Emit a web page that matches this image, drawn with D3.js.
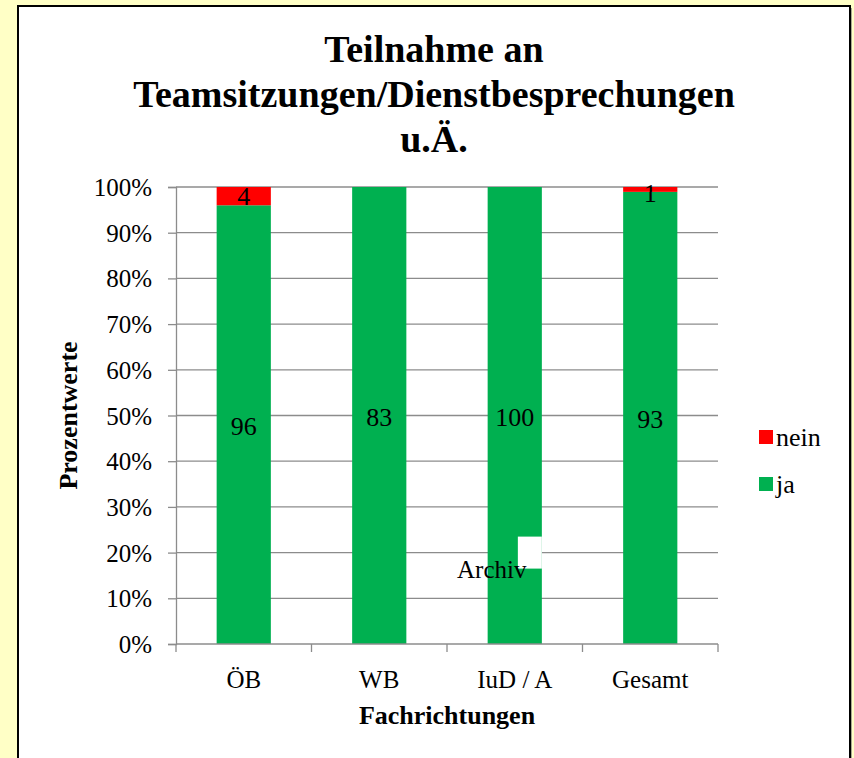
<!DOCTYPE html>
<html>
<head>
<meta charset="utf-8">
<script src="https://cdn.jsdelivr.net/npm/d3@7"></script>
<style>
  html, body { margin: 0; padding: 0; background: #FFFFC6; }
  svg { display: block; }
  text { font-family: "Liberation Serif", "Times New Roman", serif; }
</style>
</head>
<body>
<svg id="chart" width="854" height="758"></svg>
<script>
const categories = ['ÖB', 'WB', 'IuD / A', 'Gesamt'];
const jaValues = [96, 83, 100, 93];
const neinValues = [4, 0, 0, 1];
const yTicks = [0, 0.1, 0.2, 0.3, 0.4, 0.5, 0.6, 0.7, 0.8, 0.9, 1];
const titleLines = ['Teilnahme an', 'Teamsitzungen/Dienstbesprechungen', 'u.Ä.'];

const colors = { ja: '#00B050', nein: '#FF0000' };

const svg = d3.select('#chart');
const margin = { top: 187, right: 136, bottom: 114, left: 176 };
const W = 854, H = 758;

// chart frame
svg.append('rect').attr('x', 20).attr('y', 8).attr('width', 832).attr('height', 760)
  .attr('fill', '#a8a890');
svg.append('rect').attr('x', 18).attr('y', 6).attr('width', 832).attr('height', 760)
  .attr('fill', '#fff').attr('stroke', '#000').attr('stroke-width', 2);

// title
svg.append('g').selectAll('text').data(titleLines).join('text')
  .attr('x', 434).attr('y', (d, i) => 62 + i * 45)
  .attr('text-anchor', 'middle')
  .attr('font-size', 38).attr('font-weight', 'bold')
  .text(d => d);

const rows = categories.map((c, i) => ({ cat: c, ja: jaValues[i], nein: neinValues[i] }));
const series = d3.stack().keys(['ja', 'nein']).offset(d3.stackOffsetExpand)(rows);

const x = d3.scaleBand().domain(categories)
  .range([margin.left, W - margin.right]).paddingInner(0.6).paddingOuter(0.3);
const xTick = d3.scaleBand().domain(categories).range([margin.left, W - margin.right]);
const y = d3.scaleLinear().domain([0, 1]).range([H - margin.bottom, margin.top]);

// gridlines
svg.append('g').selectAll('line').data(yTicks.slice(1)).join('line')
  .attr('x1', margin.left).attr('x2', W - margin.right)
  .attr('y1', d => y(d)).attr('y2', d => y(d))
  .attr('stroke', '#8c8c8c').attr('stroke-width', 1.3);

// bars
svg.append('g').selectAll('g').data(series).join('g')
  .attr('fill', d => colors[d.key])
  .selectAll('rect').data(d => d).join('rect')
  .attr('x', d => x(d.data.cat))
  .attr('width', x.bandwidth())
  .attr('y', d => y(d[1]))
  .attr('height', d => y(d[0]) - y(d[1]));

// data labels
svg.append('g').selectAll('g').data(series).join('g')
  .selectAll('text').data(d => d.map(p => ({ p, key: d.key })).filter(o => o.p.data[o.key] > 0))
  .join('text')
  .attr('x', o => x(o.p.data.cat) + x.bandwidth() / 2)
  .attr('y', o => o.key === 'ja' ? (y(o.p[0]) + y(o.p[1])) / 2 + 10 : Math.max((y(o.p[0]) + y(o.p[1])) / 2 + 9, 202))
  .attr('text-anchor', 'middle').attr('font-size', 26)
  .text(o => o.p.data[o.key]);

// Archiv annotation
svg.append('rect').attr('x', x('IuD / A') + x.bandwidth() - 24).attr('y', y(0.235))
  .attr('width', 24).attr('height', y(0.165) - y(0.235)).attr('fill', '#fff');
svg.append('text').attr('x', x('IuD / A') + x.bandwidth() / 2 - 23).attr('y', y(0.165) + 9)
  .attr('text-anchor', 'middle').attr('font-size', 25).text('Archiv');

// y axis
const yAxis = svg.append('g').attr('transform', `translate(${margin.left},0)`)
  .call(d3.axisLeft(y).tickValues(yTicks).tickFormat(d3.format('.0%')).tickSize(8).tickPadding(16));
yAxis.select('.domain').attr('stroke', '#8c8c8c').attr('stroke-width', 1.3);
yAxis.selectAll('.tick line').attr('stroke', '#8c8c8c').attr('stroke-width', 1.3);
yAxis.selectAll('.tick text').attr('font-size', 25).attr('fill', '#000').attr('dy', '0.34em');

// x axis
const xAxisG = svg.append('g').attr('transform', `translate(0,${H - margin.bottom})`);
xAxisG.append('line').attr('x1', margin.left).attr('x2', W - margin.right)
  .attr('stroke', '#8c8c8c').attr('stroke-width', 1.3);
const xTickPos = categories.map(c => xTick(c)).concat([W - margin.right]);
xAxisG.selectAll('.xt').data(xTickPos).join('line').attr('class', 'xt')
  .attr('x1', d => d).attr('x2', d => d).attr('y1', 0).attr('y2', 8)
  .attr('stroke', '#8c8c8c').attr('stroke-width', 1.3);
xAxisG.selectAll('text').data(categories).join('text')
  .attr('x', d => x(d) + x.bandwidth() / 2).attr('y', 44)
  .attr('text-anchor', 'middle').attr('font-size', 25).text(d => d);

// axis titles
svg.append('text').attr('x', (margin.left + W - margin.right) / 2).attr('y', 724)
  .attr('text-anchor', 'middle').attr('font-size', 26).attr('font-weight', 'bold')
  .text('Fachrichtungen');
svg.append('text').attr('transform', `translate(77,${y(0.5)}) rotate(-90)`)
  .attr('text-anchor', 'middle').attr('font-size', 26).attr('font-weight', 'bold')
  .text('Prozentwerte');

// legend
const legendKeys = ['nein', 'ja'];
const lg = svg.append('g').selectAll('g').data(legendKeys).join('g')
  .attr('transform', (d, i) => `translate(759,${430 + i * 47})`);
lg.append('rect').attr('width', 14).attr('height', 14).attr('fill', d => colors[d]);
lg.append('text').attr('x', 17).attr('y', 16).attr('font-size', 26).text(d => d);
</script>
</body>
</html>
